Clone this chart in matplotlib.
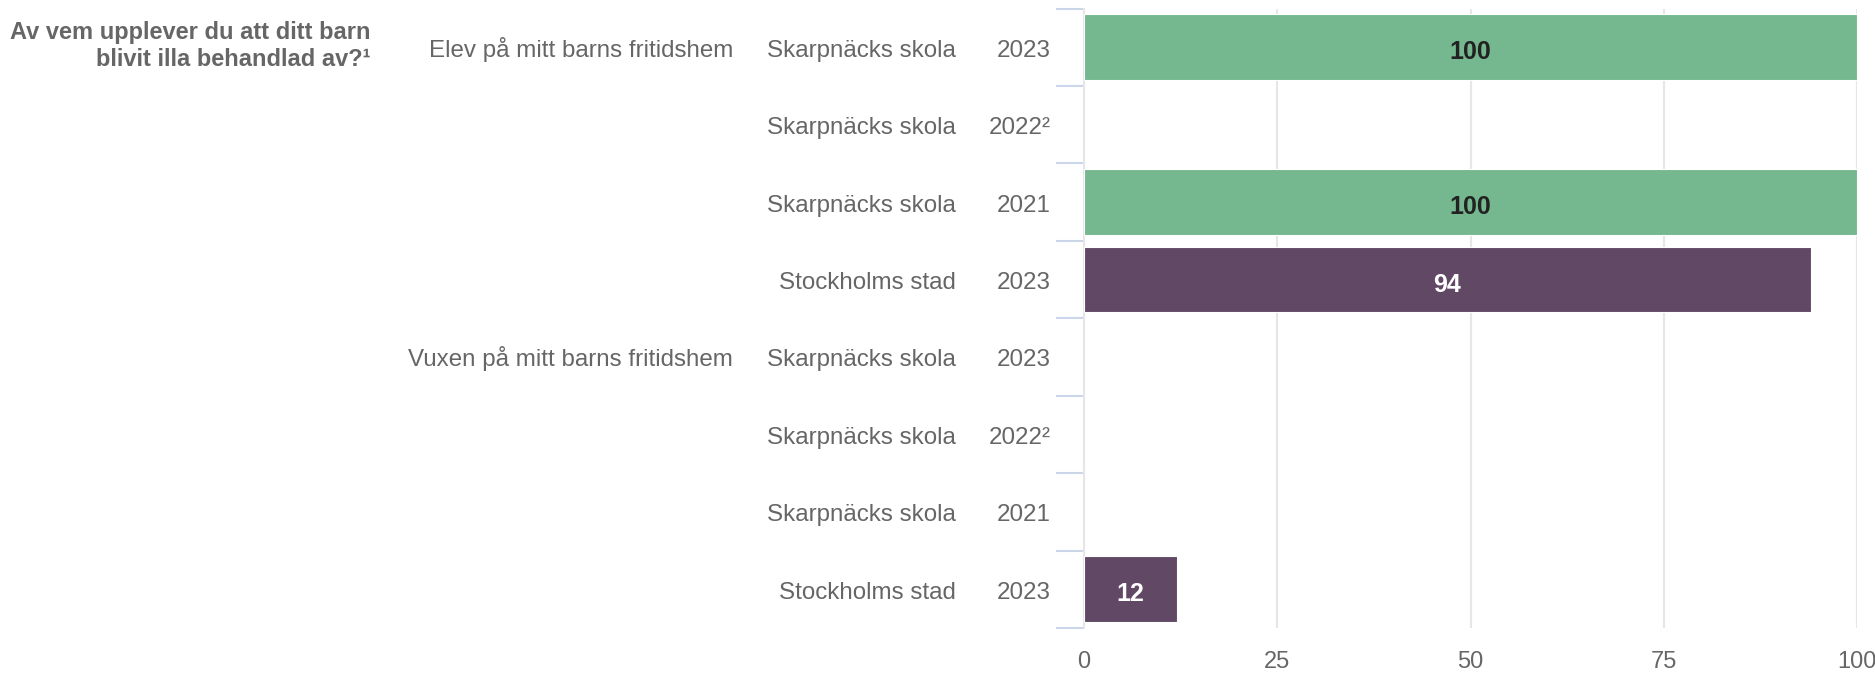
import matplotlib
matplotlib.use("Agg")
import matplotlib.pyplot as plt

plt.rcParams['font.family'] = ['Liberation Sans', 'DejaVu Sans']

title_lines = ["Av vem upplever du att ditt barn", "blivit illa behandlad av?¹"]
groups = ["Elev på mitt barns fritidshem", "", "", "",
          "Vuxen på mitt barns fritidshem", "", "", ""]
units = ["Skarpnäcks skola", "Skarpnäcks skola", "Skarpnäcks skola", "Stockholms stad",
         "Skarpnäcks skola", "Skarpnäcks skola", "Skarpnäcks skola", "Stockholms stad"]
years = ["2023", "2022²", "2021", "2023", "2023", "2022²", "2021", "2023"]
values = [100, None, 100, 94, None, None, None, 12]
is_city = [False, False, False, True, False, False, False, True]

GREEN = "#75b88f"
PURPLE = "#614865"
TXT = "#666666"
FS = 17.4

W, H = 1875, 673
TOP, BOT, LEFT, RIGHT = 8.6, 628, 1084, 1857
fig = plt.figure(figsize=(W / 100, H / 100), dpi=100)
ax = fig.add_axes([LEFT / W, 1 - BOT / H, (RIGHT - LEFT) / W, (BOT - TOP) / H])
AW = RIGHT - LEFT

n = len(units)
for i, v in enumerate(values):
    if v is None:
        continue
    col = PURPLE if is_city[i] else GREEN
    ax.barh(i, v, height=0.85, color=col, edgecolor="white", linewidth=0.8, zorder=3)
    tcol = "white" if is_city[i] else "#222222"
    ax.text(v / 2, i + 0.155, f"{v}", ha="center", va="baseline", fontsize=18,
            fontweight="bold", color=tcol, zorder=4)

ax.set_xlim(0, 100)
ax.set_ylim(n - 0.5, -0.5)
ax.set_xticks([0, 25, 50, 75, 100])
ax.set_xticklabels(["0", "25", "50", "75", "100"])
ax.tick_params(axis="x", length=0, labelsize=17, labelcolor=TXT, pad=16.5)
ax.set_yticks([i - 0.5 for i in range(n + 1)])
ax.set_yticklabels([])
ax.tick_params(axis="y", length=20, width=1.5, color="#ccd6eb")
ax.xaxis.grid(True, color="#e6e6e6", linewidth=1.5, zorder=0)
ax.set_axisbelow(True)
for s in ["top", "right", "bottom"]:
    ax.spines[s].set_visible(False)
ax.spines["left"].set_color("#e6e6e6")
ax.spines["left"].set_linewidth(1.5)

trans = ax.get_yaxis_transform()
off = 0.121
for i in range(n):
    ax.text(-(LEFT - 1051) / AW, i + off, years[i], transform=trans, ha="right", va="baseline",
            fontsize=FS, color=TXT)
    ax.text(-(LEFT - 956) / AW, i + off, units[i], transform=trans, ha="right", va="baseline",
            fontsize=FS, color=TXT)
    if groups[i]:
        ax.text(-(LEFT - 733) / AW, i + off, groups[i], transform=trans, ha="right", va="baseline",
                fontsize=FS, color=TXT)

for k, line in enumerate(title_lines):
    ax.text(-(LEFT - 371) / AW, -0.102 + k * 0.345, line, transform=trans, ha="right",
            va="baseline", fontsize=17, fontweight="bold", color=TXT)

fig.savefig("out.png", dpi=100)
